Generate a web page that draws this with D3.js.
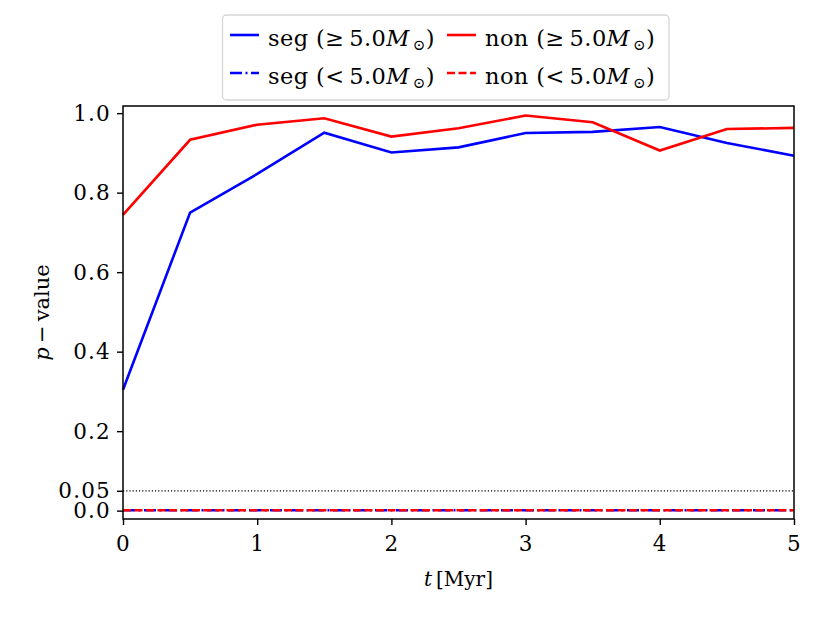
<!DOCTYPE html>
<html>
<head>
<meta charset="utf-8">
<script src="https://cdn.jsdelivr.net/npm/d3@7"></script>
<style>
  body { margin: 0; background: #fff; }
  svg { display: block; font-family: "DejaVu Serif", serif; }
</style>
</head>
<body>
<svg id="chart"></svg>
<script>
const times = [0, 0.5, 1, 1.5, 2, 2.5, 3, 3.5, 4, 4.5, 5]
const segHigh = [0.304, 0.750, 0.847, 0.951, 0.901, 0.914, 0.950, 0.953, 0.965, 0.925, 0.893]
const nonHigh = [0.744, 0.933, 0.971, 0.987, 0.941, 0.962, 0.994, 0.977, 0.906, 0.960, 0.963]
const segLow = [0.001, 0.001, 0.001, 0.001, 0.001, 0.001, 0.001, 0.001, 0.001, 0.001, 0.001]
const nonLow = [0.001, 0.001, 0.001, 0.001, 0.001, 0.001, 0.001, 0.001, 0.001, 0.001, 0.001]
const xTicks = [0, 1, 2, 3, 4, 5]
const yTicks = [0.0, 0.05, 0.2, 0.4, 0.6, 0.8, 1.0]
const yTickLabels = ["0.0", "0.05", "0.2", "0.4", "0.6", "0.8", "1.0"]
const threshold = 0.05

let width = 830, height = 623
let margin = {top: 106, right: 36, bottom: 104, left: 123}

const svg = d3.select("#chart").attr("width", width).attr("height", height)

let x = d3.scaleLinear().domain([0, 5]).range([margin.left, width - margin.right])
let y = d3.scaleLinear().domain([-0.021, 1.018]).range([height - margin.bottom, margin.top])

let series = [
  {name: "seg", cmp: "<", vals: segLow, color: "#0000ff", dash: "12,3.5,2,3.5"},
  {name: "non", cmp: "<", vals: nonLow, color: "#ff0000", dash: "8,3.5"},
  {name: "seg", cmp: "≥", vals: segHigh, color: "#0000ff", dash: null},
  {name: "non", cmp: "≥", vals: nonHigh, color: "#ff0000", dash: null},
]

// threshold line
svg.append("line")
    .attr("x1", x(0)).attr("x2", x(5))
    .attr("y1", y(threshold)).attr("y2", y(threshold))
    .attr("stroke", "#000").attr("stroke-width", 1.2)
    .attr("stroke-dasharray", "1.2,2")

let line = d3.line()
    .x((d, i) => x(times[i]))
    .y(d => y(d))

svg.append("g")
  .selectAll("path")
  .data(series)
  .join("path")
    .attr("d", d => line(d.vals))
    .attr("fill", "none")
    .attr("stroke", d => d.color)
    .attr("stroke-width", 2.6)
    .attr("stroke-dasharray", d => d.dash)

// axes
let xAxis = g => g
    .attr("transform", `translate(0,${height - margin.bottom})`)
    .call(d3.axisBottom(x).tickValues(xTicks).tickFormat(d3.format("d")).tickSize(6).tickPadding(11))

let yAxis = g => g
    .attr("transform", `translate(${margin.left},0)`)
    .call(d3.axisLeft(y).tickValues(yTicks).tickFormat((d, i) => yTickLabels[i]).tickSize(6).tickPadding(6))

svg.append("g").call(xAxis)
svg.append("g").call(yAxis)

svg.selectAll(".tick text")
    .attr("font-family", "DejaVu Serif")
    .attr("font-size", 21.5)
    .attr("letter-spacing", 1.2)
    .attr("fill", "#000")
svg.selectAll(".tick line").attr("stroke-width", 1.4)
svg.selectAll(".domain").remove()

// frame
svg.append("rect")
    .attr("x", margin.left).attr("y", margin.top)
    .attr("width", width - margin.left - margin.right)
    .attr("height", height - margin.top - margin.bottom)
    .attr("fill", "none").attr("stroke", "#000").attr("stroke-width", 1.5)

// axis labels
let xl = svg.append("text")
    .attr("x", (x(0) + x(5)) / 2).attr("y", 586)
    .attr("text-anchor", "middle")
    .attr("font-size", 20)
xl.append("tspan").attr("font-style", "italic").text("t")
xl.append("tspan").text("\u2009[Myr]")

let yl = svg.append("text")
    .attr("transform", `translate(49,${(y(-0.021) + y(1.018)) / 2}) rotate(-90)`)
    .attr("text-anchor", "middle")
    .attr("font-size", 21)
yl.append("tspan").attr("font-style", "italic").text("p")
yl.append("tspan").text("\u2009−\u2009value")

// legend
let leg = svg.append("g")
leg.append("rect")
    .attr("x", 222.5).attr("y", 15).attr("width", 446.5).attr("height", 85)
    .attr("rx", 4).attr("fill", "#fff").attr("fill-opacity", 0.8)
    .attr("stroke", "#d6d6d6").attr("stroke-width", 1.3)

let legItems = [series[2], series[3], series[0], series[1]]
let colX = [230, 447], rowY = [35, 73]
legItems.forEach((d, i) => {
  let cx = colX[i % 2], cy = rowY[Math.floor(i / 2)]
  leg.append("line")
      .attr("x1", cx).attr("x2", cx + 29)
      .attr("y1", cy).attr("y2", cy)
      .attr("stroke", d.color).attr("stroke-width", 2.6)
      .attr("stroke-dasharray", d.dash)
  let t = leg.append("text")
      .attr("x", cx + 38).attr("y", cy + 11)
      .attr("font-size", 22.5)
      .attr("letter-spacing", 0.4)
  t.append("tspan").text(`${d.name} (${d.cmp}\u2009`)
  t.append("tspan").text("5.0")
  t.append("tspan").attr("font-style", "italic").text("M")
  t.append("tspan").attr("font-size", 15).attr("dx", 3).attr("dy", 4).text("⊙")
  t.append("tspan").attr("dy", -4).text(")")
})
</script>
</body>
</html>
